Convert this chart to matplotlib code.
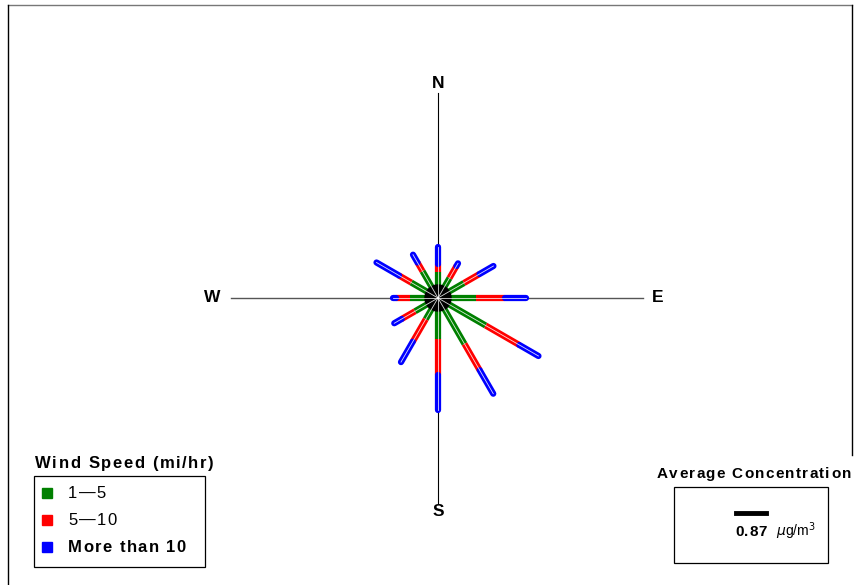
import numpy as np
import matplotlib.pyplot as plt
from matplotlib.lines import Line2D
from matplotlib.patches import Rectangle, Circle

plt.rcParams['font.family'] = ['Liberation Sans', 'DejaVu Sans']

# wind direction (degrees clockwise from north) and frequency per speed class
directions = [0, 30, 60, 90, 120, 150, 180, 210, 240, 270, 300, 330]
speed_1_5 = [5.2, 4.6, 6.0, 7.6, 11.0, 10.6, 8.1, 4.9, 5.3, 5.7, 6.2, 6.2]
speed_5_10 = [1.7, 2.8, 3.6, 5.8, 7.8, 6.1, 7.2, 5.2, 3.1, 2.7, 2.8, 2.0]
speed_10_up = [3.3, 0.6, 3.2, 4.2, 4.4, 5.4, 7.0, 4.7, 1.7, 0.6, 5.2, 1.8]
class_labels = ['1\u20145', '5\u201410', 'More than 10']
class_colors = ['#008000', '#ff0000', '#0000ff']
avg_conc = 0.87
axis_len = 41

W, H = 857, 585
fig = plt.figure(figsize=(W / 100, H / 100), dpi=100)
ax = fig.add_axes([0, 0, 1, 1])
cx, cy = 438, 298
ax.set_xlim(-cx / 5, (W - cx) / 5)
ax.set_ylim(-(H - cy) / 5, cy / 5)
ax.axis('off')
renderer = fig.canvas.get_renderer()


def px(x, y):
    return x / W, 1 - y / H


def spaced_text(x, y, s, gap, ha='left', **kw):
    # SAS-style text with wide letter spacing, y is the baseline in pixels
    widths = []
    for ch in s:
        if ch == ' ':
            widths.append(kw['fontsize'] * 100 / 72 * 0.28)
        else:
            t = fig.text(0, 0, ch, **kw)
            widths.append(t.get_window_extent(renderer).width)
            t.remove()
    total = sum(widths) + gap * (len(s) - 1)
    if ha == 'center':
        x -= total / 2
    for ch, w in zip(s, widths):
        if ch != ' ':
            fig.text(*px(x, y), ch, va='baseline', **kw)
        x += w + gap


# compass axes
ax.plot([0, 0], [-axis_len, axis_len], color='black', lw=0.8, zorder=1)
ax.plot([-axis_len - 0.5, axis_len], [0, 0], color='#555555', lw=1, zorder=1)
ax.text(0, 43, 'N', ha='center', va='center', fontsize=12.5, fontweight='bold')
ax.text(0, -42.8, 'S', ha='center', va='center', fontsize=12.5, fontweight='bold')
ax.text(-45.2, 0, 'W', ha='center', va='center', fontsize=12.5, fontweight='bold')
ax.text(44, 0, 'E', ha='center', va='center', fontsize=12.5, fontweight='bold')

# spokes
for d, g, r, b in zip(directions, speed_1_5, speed_5_10, speed_10_up):
    th = np.radians(d)
    sx, sy = np.sin(th), np.cos(th)
    bounds = [0, g, g + r, g + r + b]
    for k, caps in [(2, 'round'), (1, 'butt'), (0, 'butt')]:
        r0, r1 = bounds[k], bounds[k + 1]
        ax.plot([r0 * sx, r1 * sx], [r0 * sy, r1 * sy], color=class_colors[k],
                lw=4.5, solid_capstyle=caps, zorder=2 + k * 0.01)

ax.add_patch(Circle((0, 0), 2.6, color='black', zorder=3))
for d, g, r, b in zip(directions, speed_1_5, speed_5_10, speed_10_up):
    th = np.radians(d)
    t = g + r + b
    ax.plot([0, t * np.sin(th)], [0, t * np.cos(th)], color='white', lw=0.6,
            alpha=0.85, zorder=4)

# outer frame
fig.add_artist(Line2D([8 / W, 852 / W], [1 - 5 / H, 1 - 5 / H], color='#777777', lw=1))
fig.add_artist(Line2D([8 / W, 8 / W], [1 - 5 / H, 0], color='black', lw=1))
fig.add_artist(Line2D([852 / W, 852 / W], [1 - 5 / H, 1 - 455 / H], color='black', lw=1))

# wind speed legend
spaced_text(35, 468, 'Wind Speed (mi/hr)', 1.6, fontsize=12, fontweight='bold')
fig.add_artist(Rectangle(px(34, 567), 171 / W, 91 / H, fill=False, ec='black', lw=0.9))
for i, (lab, col) in enumerate(zip(class_labels, class_colors)):
    yy = 493 + i * 27
    fig.add_artist(Rectangle(px(42, yy + 5), 10 / W, 10 / H, color=col))
    spaced_text(68, yy + 5, lab, 1.4, fontsize=12,
                fontweight='bold' if i == 2 else 'normal')

# average concentration legend
spaced_text(754, 478, 'Average Concentration', 1.3, ha='center', fontsize=11,
            fontweight='bold')
fig.add_artist(Rectangle(px(674, 563), 154 / W, 76 / H, fill=False, ec='black', lw=0.9))
fig.add_artist(Line2D([736 / W, 766 / W], [1 - 513 / H, 1 - 513 / H], color='black', lw=3.5))
spaced_text(735, 536, f'{avg_conc:.2f}', 0.8, fontsize=11, fontweight='bold')
fig.text(*px(776, 536), r'$\mu$g/m$^3$', fontsize=10, va='baseline')

fig.savefig('out.png', dpi=100)
